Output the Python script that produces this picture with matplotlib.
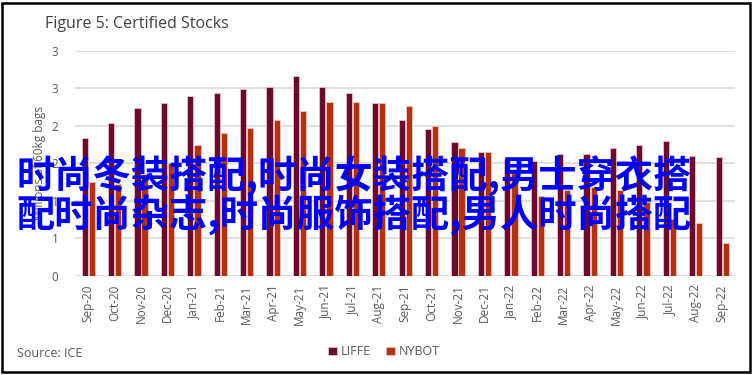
import numpy as np
from matplotlib import pyplot as plt
from matplotlib.patches import Rectangle

months = ["Sep-20", "Oct-20", "Nov-20", "Dec-20", "Jan-21", "Feb-21", "Mar-21",
          "Apr-21", "May-21", "Jun-21", "Jul-21", "Aug-21", "Sep-21", "Oct-21",
          "Nov-21", "Dec-21", "Jan-22", "Feb-22", "Mar-22", "Apr-22", "May-22",
          "Jun-22", "Jul-22", "Aug-22", "Sep-22"]
liffe = [1.84, 2.03, 2.24, 2.30, 2.39, 2.43, 2.49, 2.52, 2.66, 2.52, 2.43, 2.30,
         2.08, 1.96, 1.78, 1.65, 1.56, 1.53, 1.63, 1.62, 1.70, 1.75, 1.80, 1.60, 1.59]
nybot = [1.25, 1.22, 1.36, 1.51, 1.74, 1.91, 1.97, 2.07, 2.20, 2.32, 2.32, 2.30,
         2.26, 2.00, 1.71, 1.65, 1.42, 1.07, 1.15, 1.19, 1.15, 0.98, 0.76, 0.71, 0.44]
ytick_vals = [0, 0.5, 1, 1.5, 2, 2.5, 3]
ytick_labels = ["0", "1", "1", "2", "2", "3", "3"]

overlay = "时尚冬装搭配,时尚女装搭配,男士穿衣搭\n配时尚杂志,时尚服饰搭配,男人时尚搭配"

grey = "#595959"
plt.rcParams['font.family'] = ['Open Sans', 'DejaVu Sans']

fig = plt.figure(figsize=(7.53, 3.75), dpi=100)
ax = fig.add_axes([0.0996, 0.264, 0.877, 0.601])

x = np.arange(len(months))
w = 0.235
ax.bar(x - 0.135, liffe, w, color="#6b0a2a", edgecolor="#e9c3c8", linewidth=0.6,
       label="LIFFE", zorder=3)
ax.bar(x + 0.135, nybot, w, color="#b5310e", edgecolor="#f0c9bd", linewidth=0.6,
       label="NYBOT", zorder=3)

ax.set_xlim(-0.5, len(months) - 0.5)
ax.set_ylim(0, 3)
ax.set_yticks(ytick_vals)
ax.set_yticklabels(ytick_labels)
ax.set_xticks(x)
ax.set_xticklabels(months, rotation=90)
ax.tick_params(axis='both', length=0, colors=grey, labelsize=8.5)
ax.tick_params(axis='y', pad=12)
ax.tick_params(axis='x', pad=6)
ax.grid(axis='y', color="#d9d9d9", linewidth=1.2, zorder=0)
for s in ax.spines.values():
    s.set_visible(False)
ax.set_ylabel("Millions of 60kg bags", color=grey, fontsize=8.5, labelpad=4)

fig.text(0.06, 0.937, "Figure 5: Certified Stocks", fontsize=11.5, color="#404040",
         va="center", ha="left")
fig.text(0.022, 0.057, "Source: ICE", fontsize=9, color=grey, va="center")
ax.legend(loc="center", bbox_to_anchor=(0.51, 0.062), bbox_transform=fig.transFigure,
          ncol=2, frameon=False, fontsize=9, labelcolor=grey, handlelength=0.7,
          handleheight=0.7, handletextpad=0.3, columnspacing=1.2)

fig.text(0.022, 0.478, overlay, fontsize=27.5, color="#0000ff", fontweight="bold",
         family=['Noto Sans CJK SC', 'DejaVu Sans'], va="center", ha="left",
         linespacing=0.95, zorder=10)

fig.patches.append(Rectangle((0.003, 0.008), 0.993, 0.985, transform=fig.transFigure,
                             fill=False, edgecolor="black", linewidth=1.8))

plt.savefig("out.png", dpi=100)
